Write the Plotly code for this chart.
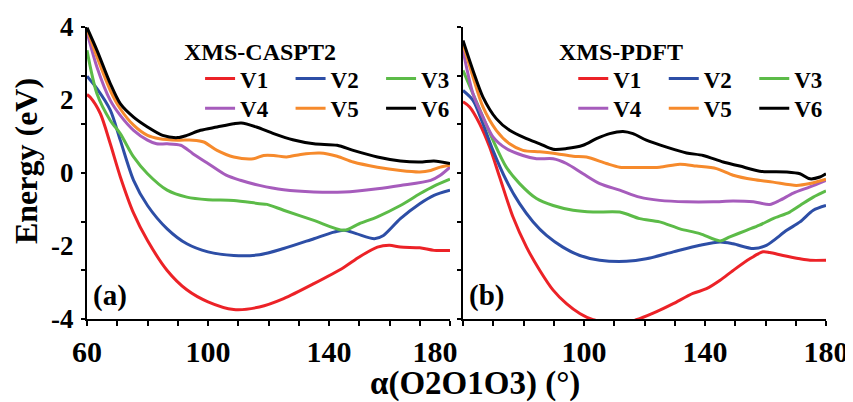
import plotly.graph_objects as go

# ---------------- data ----------------
# Panel (a) XMS-CASPT2
a_v1_x = [60, 61, 64.4, 67.7, 71, 75.4, 80, 86.5, 93, 100, 108.5, 117, 125, 135, 145, 150, 156, 160, 163.6, 170, 174.7, 180]
a_v1_y = [2.15, 2.08, 1.63, 0.8, -0.1, -1.1, -1.85, -2.67, -3.2, -3.53, -3.74, -3.67, -3.44, -3.03, -2.58, -2.3, -2.03, -1.98, -2.03, -2.05, -2.12, -2.12]
a_v2_x = [60, 63.3, 67.7, 71, 75.4, 80, 86.5, 93, 100, 108.5, 117, 125, 135, 141.6, 145, 149, 155, 158, 163.6, 170, 174.7, 180]
a_v2_y = [2.65, 2.31, 1.72, 0.9, -0.2, -0.89, -1.53, -1.94, -2.16, -2.26, -2.24, -2.07, -1.8, -1.62, -1.57, -1.66, -1.8, -1.71, -1.25, -0.84, -0.61, -0.47]
a_v3_x = [60, 63.3, 67.7, 71, 75.4, 80, 86.5, 93, 100, 108.5, 117, 119.5, 125, 135, 145, 150, 156, 163.6, 170, 174.7, 180]
a_v3_y = [3.36, 2.17, 1.44, 1.08, 0.44, -0.02, -0.47, -0.66, -0.73, -0.75, -0.84, -0.86, -1.02, -1.3, -1.57, -1.39, -1.2, -0.89, -0.57, -0.36, -0.17]
a_v4_x = [60, 63.3, 67.7, 71, 75.4, 80, 83, 86.5, 91, 95, 100, 106, 110.7, 117, 125, 135, 145, 156, 163.6, 173.6, 176.8, 180]
a_v4_y = [3.86, 2.9, 1.99, 1.58, 1.17, 0.9, 0.8, 0.8, 0.76, 0.53, 0.26, -0.06, -0.2, -0.34, -0.46, -0.52, -0.52, -0.43, -0.34, -0.2, -0.06, 0.16]
a_v5_x = [60, 63.3, 67.7, 71, 75.4, 80, 84, 90, 95, 98.6, 103, 108.5, 115, 118.4, 121.7, 126, 130.6, 137, 142.7, 148, 156, 163.6, 170, 173.6, 176.8, 180]
a_v5_y = [3.95, 3.18, 2.26, 1.76, 1.31, 1.03, 0.94, 0.9, 0.9, 0.85, 0.62, 0.44, 0.39, 0.48, 0.48, 0.44, 0.51, 0.55, 0.46, 0.3, 0.16, 0.07, 0.03, 0.07, 0.16, 0.21]
a_v6_x = [60, 63.3, 67.7, 71, 75.4, 80, 85, 90, 93, 97.5, 103, 108.5, 111, 116, 121.7, 128, 135, 142.7, 148, 156, 163.6, 170, 174.7, 180]
a_v6_y = [3.98, 3.36, 2.45, 1.9, 1.53, 1.26, 1.03, 0.97, 1.03, 1.17, 1.26, 1.35, 1.37, 1.26, 1.08, 0.91, 0.8, 0.76, 0.62, 0.44, 0.33, 0.3, 0.33, 0.26]

# Panel (b) XMS-PDFT
b_v1_x = [60, 62.2, 65.5, 68.8, 72.1, 76.5, 81, 85.4, 89.8, 94.2, 98.6, 103, 107.4, 114, 118.4, 124, 129.5, 136, 140.5, 145, 149.3, 154.8, 159.2, 161.4, 165.8, 171.4, 174.7, 180]
b_v1_y = [1.95, 1.81, 1.35, 0.71, -0.11, -1.2, -2.03, -2.67, -3.21, -3.58, -3.85, -4.02, -4.08, -4.1, -3.99, -3.8, -3.58, -3.3, -3.17, -2.94, -2.67, -2.35, -2.16, -2.18, -2.26, -2.35, -2.39, -2.39]
b_v2_x = [60, 63.3, 66.6, 69.9, 74.3, 78.7, 83.2, 87.6, 93, 98.6, 105.2, 114, 120.6, 129.5, 138.3, 145, 149.3, 156, 160.3, 167, 171.4, 175.8, 180]
b_v2_y = [2.26, 1.99, 1.35, 0.62, -0.2, -0.84, -1.34, -1.71, -2.03, -2.26, -2.39, -2.42, -2.35, -2.16, -1.98, -1.89, -1.94, -2.07, -1.98, -1.57, -1.34, -1.02, -0.89]
b_v3_x = [60, 63.3, 66.6, 69.9, 74.3, 78.7, 84.3, 89.8, 96.4, 103, 111.8, 118.4, 125, 131.7, 138.3, 145, 148.2, 153.7, 158, 162.5, 168, 171.4, 175.8, 180]
b_v3_y = [2.81, 2.17, 1.53, 0.9, 0.16, -0.29, -0.7, -0.89, -1.02, -1.07, -1.07, -1.25, -1.34, -1.53, -1.66, -1.86, -1.75, -1.57, -1.43, -1.25, -1.07, -0.89, -0.66, -0.49]
b_v4_x = [60, 63.3, 66.6, 69.9, 74.3, 79.8, 84.3, 89.8, 94.2, 99.7, 105.2, 111.8, 118.4, 125, 133.9, 142.7, 149.3, 156, 161.4, 164.7, 169.2, 174.7, 180]
b_v4_y = [3.36, 2.17, 1.53, 0.99, 0.67, 0.48, 0.39, 0.39, 0.26, -0.02, -0.29, -0.47, -0.66, -0.75, -0.79, -0.79, -0.77, -0.79, -0.86, -0.75, -0.55, -0.38, -0.2]
b_v5_x = [60, 63.3, 66.6, 71, 75.4, 79.8, 85.4, 90.9, 96.4, 100.8, 107.4, 111.8, 118.4, 125, 131.7, 137.2, 143.8, 149.3, 156, 162.5, 170.2, 174.7, 180]
b_v5_y = [3.54, 2.63, 1.81, 1.17, 0.8, 0.62, 0.58, 0.53, 0.46, 0.44, 0.26, 0.16, 0.15, 0.16, 0.24, 0.19, 0.12, -0.06, -0.18, -0.25, -0.34, -0.29, -0.17]
b_v6_x = [60, 63.3, 66.6, 71, 75.4, 81, 85.4, 89.8, 94.2, 99.7, 104.1, 108.5, 112.9, 116.2, 120.6, 127.3, 133.9, 139.4, 146, 151.5, 158.1, 167, 171.4, 174.7, 178, 180]
b_v6_y = [3.63, 2.81, 2.08, 1.49, 1.17, 0.94, 0.8, 0.65, 0.67, 0.76, 0.94, 1.08, 1.14, 1.08, 0.9, 0.71, 0.55, 0.48, 0.3, 0.19, 0.05, 0.03, -0.02, -0.16, -0.11, -0.02]

series_names = ["V1", "V2", "V3", "V4", "V5", "V6"]
series_colors = ["#ec2227", "#2d4ea6", "#5cbb48", "#a65cbc", "#f68a2c", "#000000"]
panel_titles = ["XMS-CASPT2", "XMS-PDFT"]
panel_tags = ["(a)", "(b)"]

panel_a = [(a_v1_x, a_v1_y), (a_v2_x, a_v2_y), (a_v3_x, a_v3_y),
           (a_v4_x, a_v4_y), (a_v5_x, a_v5_y), (a_v6_x, a_v6_y)]
panel_b = [(b_v1_x, b_v1_y), (b_v2_x, b_v2_y), (b_v3_x, b_v3_y),
           (b_v4_x, b_v4_y), (b_v5_x, b_v5_y), (b_v6_x, b_v6_y)]

x_tick_vals = list(range(60, 181, 10))
x_labels_a = {60: "60", 100: "100", 140: "140", 180: "180\u2007\u2007"}
x_labels_b = {100: "100", 140: "140", 180: "180"}
y_label_vals = [4, 2, 0, -2, -4]
y_tick_vals = [-4 + 4 / 3 * i for i in range(7)]

FONT = "Liberation Serif"

fig = go.Figure()

for i, (name, color) in enumerate(zip(series_names, series_colors)):
    xs, ys = panel_a[i]
    fig.add_trace(go.Scatter(
        x=xs, y=ys, name=name, mode="lines",
        line=dict(color=color, width=3, shape="spline", smoothing=0.8),
        xaxis="x", yaxis="y",
        legend="legend" if i < 3 else "legend2"))
for i, (name, color) in enumerate(zip(series_names, series_colors)):
    xs, ys = panel_b[i]
    fig.add_trace(go.Scatter(
        x=xs, y=ys, name=name, mode="lines",
        line=dict(color=color, width=3, shape="spline", smoothing=0.8),
        xaxis="x2", yaxis="y2",
        legend="legend3" if i < 3 else "legend4"))

axis_common = dict(showgrid=False, zeroline=False, showline=True,
                   linecolor="black", linewidth=2,
                   tickcolor="black", tickwidth=2)

xa_text = [x_labels_a.get(v, "") for v in x_tick_vals]
xb_text = [x_labels_b.get(v, "") for v in x_tick_vals]

leg_font = dict(family=FONT, size=23, color="black", weight="bold")

def legend_cfg(x, y):
    return dict(orientation="h", x=x, y=y, xanchor="left", yanchor="top",
                xref="paper", yref="paper", bgcolor="rgba(0,0,0,0)",
                font=leg_font, entrywidth=45.5, entrywidthmode="pixels",
                itemwidth=30, tracegroupgap=0, borderwidth=0)

y_minor = dict(tickmode="array", tickvals=y_tick_vals, ticks="outside",
               ticklen=4, tickwidth=2, tickcolor="black", showgrid=False)

fig.update_layout(
    width=845, height=394,
    margin=dict(l=79, r=27, t=19, b=83, pad=0, autoexpand=False),
    paper_bgcolor="white", plot_bgcolor="white",
    font=dict(family=FONT, color="black"),
    xaxis=dict(domain=[0, 0.4912], range=[60, 180], anchor="y",
               tickmode="array", tickvals=x_tick_vals, ticktext=xa_text,
               ticks="outside", ticklen=5, ticklabelstandoff=0,
               tickfont=dict(family=FONT, size=30, color="black", weight="bold"),
               **axis_common),
    xaxis2=dict(domain=[0.5088, 1], range=[60, 180], anchor="y2",
                tickmode="array", tickvals=x_tick_vals, ticktext=xb_text,
                ticks="outside", ticklen=5, ticklabelstandoff=0,
                tickfont=dict(family=FONT, size=30, color="black", weight="bold"),
                **axis_common),
    yaxis=dict(domain=[0, 1], range=[-4, 4], anchor="x",
               tickmode="array", tickvals=y_label_vals,
               ticktext=[str(v) for v in y_label_vals],
               ticks="", ticklabelstandoff=6, minor=y_minor,
               tickfont=dict(family=FONT, size=27, color="black", weight="bold"),
               **axis_common),
    yaxis2=dict(domain=[0, 1], range=[-4, 4], anchor="x2",
                tickmode="array", tickvals=y_label_vals, showticklabels=False,
                ticks="", minor=y_minor, **axis_common),
    legend=legend_cfg(0.153, 0.897),
    legend2=legend_cfg(0.153, 0.795),
    legend3=legend_cfg(0.658, 0.897),
    legend4=legend_cfg(0.658, 0.795),
    showlegend=True,
)

title_font = dict(family=FONT, size=24, color="black", weight="bold")
fig.add_annotation(text=panel_titles[0], xref="paper", yref="paper",
                   x=0.1286, y=0.914, xanchor="left", yanchor="middle",
                   showarrow=False, font=title_font)
fig.add_annotation(text=panel_titles[1], xref="paper", yref="paper",
                   x=0.636, y=0.914, xanchor="left", yanchor="middle",
                   showarrow=False, font=title_font)

fig.add_annotation(text="Energy (eV)", textangle=-90, xref="paper", yref="paper",
                   x=-0.0825, y=0.541, xanchor="center", yanchor="middle",
                   showarrow=False,
                   font=dict(family=FONT, size=32, color="black", weight="bold"))
fig.add_annotation(text="\u03b1(O2O1O3) (\u00b0)", xref="paper", yref="paper",
                   x=0.525, y=-0.222, xanchor="center", yanchor="middle",
                   showarrow=False,
                   font=dict(family=FONT, size=33, color="black", weight="bold"))
fig.add_annotation(text=panel_tags[0], xref="paper", yref="paper", x=0.005, y=0.082,
                   xanchor="left", yanchor="middle", showarrow=False,
                   font=dict(family=FONT, size=29, color="black", weight="bold"))
fig.add_annotation(text=panel_tags[1], xref="paper", yref="paper", x=0.514, y=0.082,
                   xanchor="left", yanchor="middle", showarrow=False,
                   font=dict(family=FONT, size=29, color="black", weight="bold"))

fig.write_html("out.html")
